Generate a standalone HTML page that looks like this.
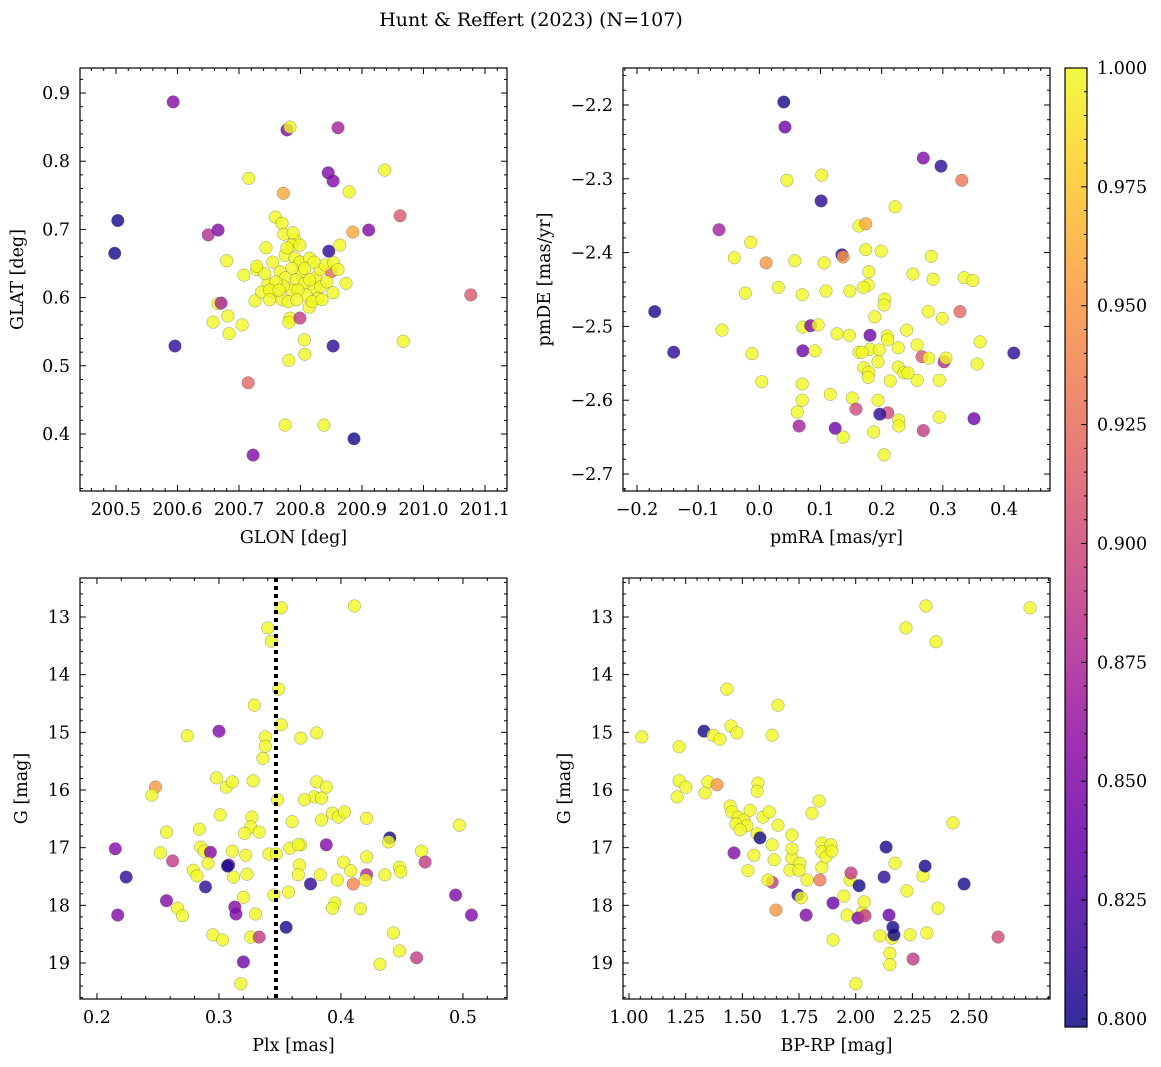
<!DOCTYPE html>
<html><head><meta charset="utf-8">
<style>
html,body{margin:0;padding:0;background:#fff;}
svg{display:block;font-family:"DejaVu Serif","Liberation Serif",serif;}
</style></head>
<body>
<svg id="fig" width="1161" height="1067" viewBox="0 0 1161 1067" xmlns="http://www.w3.org/2000/svg">
<text x="531" y="26" text-anchor="middle" font-size="19">Hunt &amp; Reffert (2023) (N=107)</text>
</svg>
<script>
// ---- Panel A: GLON vs GLAT ----
const glonA = [200.498,200.503,200.593,200.596,200.650,200.666,200.658,200.666,200.671,200.680,200.682,200.684,200.705,200.716,200.715,200.723,200.726,200.729,200.744,200.747,200.754,200.759,200.772,200.770,200.773,200.778,200.783,200.775,200.781,200.783,200.781,200.799,200.806,200.807,200.814,200.838,200.845,200.853,200.846,200.850,200.853,200.861,200.853,200.864,200.879,200.885,200.887,200.911,200.937,200.962,200.967,201.077,200.791,200.786,200.775,200.791,200.799,200.815,200.802,200.786,200.767,200.776,200.793,200.807,200.824,200.832,200.840,200.822,200.809,200.786,200.772,200.742,200.755,200.760,200.828,200.819,200.833,200.843,200.854,200.861,200.770,200.780,200.799,200.807,200.796,200.815,200.737,200.708,200.729,200.750,200.874,200.835,200.765,200.794,200.778,200.788,200.822,200.750];
const glatA = [0.665,0.713,0.887,0.529,0.692,0.699,0.564,0.591,0.592,0.654,0.573,0.547,0.560,0.775,0.475,0.369,0.595,0.641,0.673,0.620,0.608,0.718,0.753,0.709,0.693,0.846,0.850,0.413,0.508,0.570,0.564,0.570,0.538,0.517,0.586,0.413,0.783,0.771,0.668,0.638,0.529,0.849,0.607,0.677,0.755,0.696,0.393,0.699,0.787,0.720,0.536,0.604,0.685,0.677,0.662,0.658,0.652,0.658,0.638,0.643,0.638,0.629,0.626,0.621,0.629,0.641,0.648,0.614,0.604,0.611,0.617,0.635,0.652,0.623,0.599,0.594,0.616,0.623,0.651,0.641,0.597,0.594,0.677,0.643,0.611,0.626,0.608,0.633,0.646,0.611,0.621,0.597,0.611,0.597,0.673,0.695,0.652,0.597];
const probA = [0.80,0.80,0.85,0.81,0.88,0.85,1,1,0.87,1,1,1,1,1,0.92,0.85,1,1,1,1,1,1,0.96,1,1,0.85,1,1,1,1,1,0.89,1,1,1,1,0.85,0.85,0.81,0.92,0.81,0.87,1,1,1,0.96,0.80,0.85,1,0.91,1,0.91,1,1,1,1,1,1,1,1,1,1,1,1,1,1,1,1,1,1,1,1,1,1,1,1,1,1,1,1,1,1,1,1,1,1,1,1,1,1,1,1,1,1,1,1,1,1];
const xTicksA = [200.5,200.6,200.7,200.8,200.9,201.0,201.1];
const yTicksA = [0.4,0.5,0.6,0.7,0.8,0.9];

// ---- Panel B: pmRA vs pmDE ----
const pmraB = [0.040,0.042,0.045,0.102,0.101,0.222,0.268,0.297,0.331,-0.066,-0.014,0.163,0.174,0.135,0.137,0.174,0.199,0.281,-0.041,0.011,0.058,0.106,0.179,0.251,0.284,0.335,0.349,0.178,0.170,0.031,-0.023,0.109,0.148,0.205,-0.171,-0.061,0.070,0.071,0.084,0.096,0.189,0.204,0.241,0.276,0.299,0.328,0.127,0.147,0.181,0.209,0.210,0.181,-0.140,-0.012,0.071,0.091,0.163,0.168,0.196,0.227,0.258,0.266,0.277,0.302,0.305,0.361,0.356,0.416,0.194,0.171,0.179,0.227,0.236,0.214,0.258,0.294,0.004,0.070,0.178,0.152,0.243,0.194,0.070,0.116,0.062,0.158,0.210,0.197,0.228,0.294,0.351,0.228,0.187,0.137,0.124,0.065,0.268,0.204];
const pmdeB = [-2.196,-2.230,-2.302,-2.295,-2.330,-2.338,-2.272,-2.283,-2.302,-2.369,-2.386,-2.364,-2.361,-2.403,-2.406,-2.396,-2.398,-2.405,-2.407,-2.414,-2.411,-2.414,-2.426,-2.429,-2.436,-2.434,-2.438,-2.444,-2.447,-2.447,-2.455,-2.452,-2.452,-2.463,-2.480,-2.505,-2.457,-2.501,-2.499,-2.498,-2.487,-2.471,-2.505,-2.480,-2.489,-2.480,-2.510,-2.512,-2.512,-2.513,-2.518,-2.531,-2.535,-2.537,-2.533,-2.533,-2.535,-2.535,-2.532,-2.529,-2.525,-2.541,-2.543,-2.548,-2.543,-2.521,-2.551,-2.536,-2.548,-2.556,-2.562,-2.555,-2.563,-2.574,-2.573,-2.573,-2.575,-2.578,-2.569,-2.597,-2.563,-2.600,-2.600,-2.592,-2.616,-2.612,-2.617,-2.619,-2.627,-2.623,-2.625,-2.635,-2.643,-2.650,-2.638,-2.635,-2.641,-2.674];
const probB = [0.80,0.84,1,1,0.81,1,0.85,0.81,0.93,0.87,1,1,0.96,0.81,0.95,1,1,1,1,0.95,1,1,1,1,1,1,1,1,1,1,1,1,1,1,0.80,1,1,1,0.85,1,1,1,1,1,1,0.92,1,1,0.84,1,1,1,0.81,1,0.84,1,1,1,1,1,1,0.91,1,0.88,1,1,1,0.81,1,1,1,1,1,1,1,1,1,1,1,1,1,1,1,1,1,0.90,0.90,0.81,1,1,0.84,1,1,1,0.84,0.87,0.89,1];
const xTicksB = [-0.2,-0.1,0.0,0.1,0.2,0.3,0.4];
const yTicksB = [-2.7,-2.6,-2.5,-2.4,-2.3,-2.2];

// ---- Panel C: Plx vs G ----
const plxC = [0.411,0.351,0.340,0.343,0.349,0.329,0.274,0.300,0.338,0.338,0.336,0.351,0.367,0.380,0.248,0.245,0.298,0.306,0.311,0.328,0.380,0.388,0.378,0.384,0.370,0.348,0.301,0.327,0.326,0.321,0.360,0.384,0.393,0.398,0.403,0.421,0.257,0.284,0.333,0.367,0.388,0.440,0.439,0.215,0.252,0.285,0.288,0.293,0.311,0.322,0.341,0.347,0.358,0.365,0.262,0.291,0.308,0.307,0.366,0.402,0.421,0.448,0.466,0.469,0.224,0.279,0.282,0.312,0.365,0.383,0.408,0.449,0.436,0.421,0.375,0.410,0.420,0.289,0.397,0.323,0.257,0.266,0.270,0.320,0.313,0.345,0.357,0.395,0.393,0.416,0.217,0.314,0.330,0.507,0.494,0.295,0.303,0.326,0.333,0.355,0.443,0.448,0.320,0.432,0.462,0.318,0.497];
const gC = [12.81,12.84,13.19,13.42,14.25,14.53,15.06,14.98,15.08,15.24,15.45,14.87,15.10,15.01,15.95,16.09,15.79,15.95,15.86,15.84,15.86,15.95,16.12,16.14,16.17,16.17,16.43,16.47,16.64,16.75,16.55,16.52,16.40,16.47,16.38,16.49,16.73,16.68,16.73,16.95,16.95,16.83,16.90,17.02,17.09,16.99,17.06,17.08,17.06,17.13,17.11,17.11,17.01,16.95,17.23,17.27,17.30,17.32,17.30,17.25,17.16,17.34,17.06,17.25,17.51,17.39,17.49,17.51,17.47,17.47,17.40,17.42,17.47,17.47,17.63,17.63,17.56,17.68,17.56,17.46,17.92,18.05,18.18,17.86,18.03,17.82,17.77,17.96,18.05,18.06,18.17,18.15,18.15,18.17,17.82,18.51,18.60,18.55,18.55,18.38,18.48,18.79,18.98,19.02,18.91,19.36,16.61];
const probC = [1,1,1,1,1,1,1,0.85,1,1,1,1,1,1,0.95,1,1,1,1,1,1,1,1,1,1,1,1,1,1,1,1,1,1,1,1,1,1,1,1,1,0.85,0.80,1,0.85,1,1,1,0.85,1,1,1,1,1,1,0.89,1,0.85,0.80,1,1,1,1,1,0.89,0.81,1,1,1,1,1,1,1,1,0.88,0.81,0.94,1,0.81,1,1,0.85,1,1,1,0.85,1,1,1,1,1,0.85,0.85,1,0.85,0.85,1,1,1,0.89,0.80,1,1,0.84,1,0.89,1,1];
const plxLine = 0.3467;
const xTicksC = [0.2,0.3,0.4,0.5];
const yTicksC = [13,14,15,16,17,18,19];

// ---- Panel D: BP-RP vs G ----
const bprpD = [1.057,1.221,1.221,1.251,1.212,1.331,1.371,1.401,1.432,1.450,1.476,1.335,1.348,1.388,1.446,1.463,1.454,1.481,1.507,1.520,1.472,1.490,1.534,1.569,1.565,1.591,1.618,1.631,1.657,1.631,1.640,1.631,1.648,1.657,1.565,1.578,1.551,1.525,1.613,1.710,1.719,1.719,1.719,1.754,1.750,1.745,1.759,1.781,1.785,1.807,1.838,1.842,1.851,1.851,1.851,1.869,1.891,1.895,1.900,1.900,1.948,1.975,1.979,1.962,2.015,2.028,2.010,2.037,2.001,2.041,2.107,2.134,2.125,2.147,2.151,2.160,2.164,2.151,2.169,2.173,2.226,2.240,2.253,2.297,2.306,2.310,2.222,2.354,2.363,2.314,2.429,2.478,2.628,2.769];
const gD = [15.08,15.25,15.84,15.95,16.12,14.98,15.05,15.12,14.25,14.89,15.01,16.05,15.86,15.91,16.28,17.09,16.38,16.47,16.52,16.62,16.59,16.69,16.35,15.88,16.02,16.47,16.38,15.05,14.53,16.95,17.21,17.60,18.08,16.61,16.76,16.83,17.13,17.40,17.56,17.39,17.18,17.02,16.78,17.27,17.39,17.82,17.87,18.17,17.56,16.40,16.19,17.56,17.34,16.92,17.07,17.16,16.95,17.06,17.96,18.60,17.84,17.56,17.44,18.17,17.66,18.13,18.22,17.94,19.36,18.18,18.53,16.99,17.51,18.17,18.83,18.57,18.38,19.03,18.51,17.27,17.75,18.51,18.93,17.49,17.32,12.81,13.19,13.43,18.05,18.48,16.57,17.63,18.55,12.84];
const probD = [1,1,1,1,1,0.80,1,1,1,1,1,1,1,0.95,1,0.85,1,1,1,1,1,1,1,1,1,1,1,1,1,1,1,0.89,0.95,1,1,0.80,1,1,1,1,1,1,1,1,1,0.81,1,0.85,1,1,1,0.93,1,1,1,1,1,1,0.84,1,1,1,0.89,1,0.80,1,0.85,1,1,0.89,1,0.80,0.81,0.84,1,1,0.80,1,0.80,1,1,1,0.89,1,0.80,1,1,1,1,1,1,0.80,0.90,1];
const xTicksD = [1.00,1.25,1.50,1.75,2.00,2.25,2.50];
const yTicksD = [13,14,15,16,17,18,19];

// ---- Colorbar ----
const cbTicks = [0.800,0.825,0.850,0.875,0.900,0.925,0.950,0.975,1.000];
const cbMin = 0.7983, cbMax = 1.0;

const NS = "http://www.w3.org/2000/svg";
const svg = document.getElementById('fig');
const FS = 17.5;
const plasma = ["#0d0887","#41049d","#6a00a8","#8f0da4","#b12a90","#cc4778","#e16462","#f2844b","#fca636","#fcce25","#f0f921"];
function hex(h){return [parseInt(h.substr(1,2),16),parseInt(h.substr(3,2),16),parseInt(h.substr(5,2),16)];}
function cmap(t){t=Math.max(0,Math.min(1,t));const s=t*10;const i=Math.min(9,Math.floor(s));const f=s-i;const a=hex(plasma[i]),b=hex(plasma[i+1]);
  return 'rgb('+a.map((v,k)=>Math.round(v+(b[k]-v)*f)).join(',')+')';}
function colorOf(p){return cmap((p-cbMin)/(cbMax-cbMin));}
function mk(tag,attrs,parent){const e=document.createElementNS(NS,tag);for(const k in attrs)e.setAttribute(k,attrs[k]);(parent||svg).appendChild(e);return e;}
function fmt(v,d){const s=Math.abs(v).toFixed(d);return (v<-1e-9?'\u2212':'')+s;}

function panel(cfg){
  const g=mk('g',{});
  
  
  const {x0,y0,w,h,xmin,xmax,ymin,ymax,yInv}=cfg;
  const sx=v=>x0+(v-xmin)/(xmax-xmin)*w;
  const sy=v=>yInv? y0+(v-ymin)/(ymax-ymin)*h : y0+h-(v-ymin)/(ymax-ymin)*h;
  const pg=mk('g',{},g);
  for(let i=0;i<cfg.xs.length;i++){
    const c=mk('circle',{cx:sx(cfg.xs[i]).toFixed(1),cy:sy(cfg.ys[i]).toFixed(1),r:6.3,fill:colorOf(cfg.ps[i]),'fill-opacity':0.8,stroke:'#555','stroke-width':0.5,'stroke-opacity':0.6},pg);
    
    
  }
  if(cfg.vline!==undefined){
    const l=mk('line',{x1:sx(cfg.vline),x2:sx(cfg.vline),y1:y0,y2:y0+h,stroke:'#000','stroke-width':4,'stroke-dasharray':'4,4'},g);
    
    
  }
  const fr=mk('rect',{x:x0,y:y0,width:w,height:h,fill:'none',stroke:'#000','stroke-width':1.2},g);
  
  
  const tg=mk('g',{stroke:'#000','stroke-width':1},g);
  const eps=1e-9;
  const minorX=cfg.xminor, minorY=cfg.yminor;
  for(let v=Math.ceil(xmin/minorX)*minorX; v<=xmax+eps; v+=minorX){
    const X=sx(v); if(X<x0||X>x0+w) continue;
    const isMaj=cfg.xt.some(t=>Math.abs(t-v)<minorX/10);
    const L=isMaj?6:3;
    mk('line',{x1:X,x2:X,y1:y0+h,y2:y0+h-L},tg); mk('line',{x1:X,x2:X,y1:y0,y2:y0+L},tg);
  }
  for(let v=Math.ceil(ymin/minorY)*minorY; v<=ymax+eps; v+=minorY){
    const Y=sy(v); if(Y<y0||Y>y0+h) continue;
    const isMaj=cfg.yt.some(t=>Math.abs(t-v)<minorY/10);
    const L=isMaj?6:3;
    mk('line',{x1:x0,x2:x0+L,y1:Y,y2:Y},tg); mk('line',{x1:x0+w,x2:x0+w-L,y1:Y,y2:Y},tg);
  }
  cfg.xt.forEach(v=>{const t=mk('text',{x:sx(v),y:y0+h+24,'text-anchor':'middle','font-size':FS},g);t.textContent=fmt(v,cfg.xd);
    
    });
  cfg.yt.forEach(v=>{const t=mk('text',{x:x0-10,y:sy(v)+6,'text-anchor':'end','font-size':FS},g);t.textContent=fmt(v,cfg.yd);
    
    });
  const xl=mk('text',{x:x0+w/2,y:y0+h+52,'text-anchor':'middle','font-size':FS},g);xl.textContent=cfg.xlabel;
  
  
  const yl=mk('text',{x:0,y:0,'text-anchor':'middle','font-size':FS,transform:'translate('+cfg.ylx+','+(y0+h/2)+') rotate(-90)'},g);yl.textContent=cfg.ylabel;
  
  
}

panel({name:'glon-glat-panel',x0:80,y0:68,w:427,h:423,xmin:200.4415,xmax:201.1358,ymin:0.3164,ymax:0.9367,xs:glonA,ys:glatA,ps:probA,xt:xTicksA,yt:yTicksA,xminor:0.02,yminor:0.02,xd:1,yd:1,xlabel:'GLON [deg]',ylabel:'GLAT [deg]',ylx:23});
panel({name:'proper-motion-panel',x0:623,y0:68,w:427,h:423,xmin:-0.2229,xmax:0.4752,ymin:-2.7230,ymax:-2.1499,xs:pmraB,ys:pmdeB,ps:probB,xt:xTicksB,yt:yTicksB,xminor:0.02,yminor:0.02,xd:1,yd:1,xlabel:'pmRA [mas/yr]',ylabel:'pmDE [mas/yr]',ylx:550});
panel({name:'parallax-magnitude-panel',x0:80,y0:578,w:427,h:421,xmin:0.1861,xmax:0.5361,ymin:12.324,ymax:19.624,yInv:true,xs:plxC,ys:gC,ps:probC,vline:plxLine,xt:xTicksC,yt:yTicksC,xminor:0.02,yminor:0.2,xd:1,yd:0,xlabel:'Plx [mas]',ylabel:'G [mag]',ylx:27});
panel({name:'color-magnitude-panel',x0:623,y0:578,w:427,h:421,xmin:0.9735,xmax:2.857,ymin:12.324,ymax:19.624,yInv:true,xs:bprpD,ys:gD,ps:probD,xt:xTicksD,yt:yTicksD,xminor:0.05,yminor:0.2,xd:2,yd:0,xlabel:'BP-RP [mag]',ylabel:'G [mag]',ylx:570});

(function(){
  const cx=1065,cy=68,cw=22,ch=959;
  const g=mk('g',{});
  
  
  const defs=mk('defs',{},g);
  const lg=mk('linearGradient',{id:'cbg',x1:0,y1:1,x2:0,y2:0},defs);
  for(let i=0;i<=20;i++){mk('stop',{offset:(i/20),'stop-color':cmap(i/20),'stop-opacity':0.85},lg);}
  mk('rect',{x:cx,y:cy,width:cw,height:ch,fill:'url(#cbg)',stroke:'#000','stroke-width':1.2},g);
  const sy=v=>cy+ch-(v-cbMin)/(cbMax-cbMin)*ch;
  for(let v=0.800; v<=1.0001; v+=0.005){
    const maj=cbTicks.some(t=>Math.abs(t-v)<0.001);
    mk('line',{x1:cx+cw,x2:cx+cw-(maj?6:3),y1:sy(v),y2:sy(v),stroke:'#000','stroke-width':1},g);
  }
  cbTicks.forEach(v=>{const t=mk('text',{x:cx+cw+10,y:sy(v)+6,'font-size':FS},g);t.textContent=v.toFixed(3);
    
    });
})();
</script>
</body></html>
